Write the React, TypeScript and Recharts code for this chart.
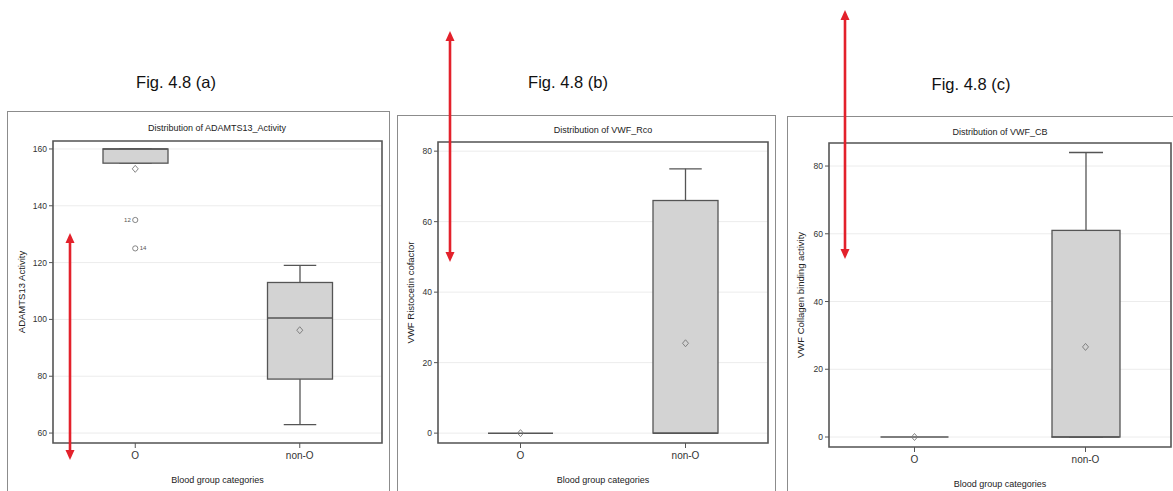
import React from 'react';
import { ComposedChart, Bar, Scatter, XAxis, YAxis, CartesianGrid, ReferenceArea } from 'recharts';

const categories = ['O', 'non-O'];

// Fig 4.8 (a) ADAMTS13 activity
const adamtsQ1 = [155, 79];
const adamtsMedian = [160, 100.5];
const adamtsQ3 = [160, 113];
const adamtsLow = [155, 63];
const adamtsHigh = [160, 119];
const adamtsMean = [153, 96.2];
const adamtsOutLeft = [135, null];
const adamtsOutLeftId = ['12', null];
const adamtsOutRight = [125, null];
const adamtsOutRightId = ['14', null];

// Fig 4.8 (b) VWF ristocetin cofactor
const rcoQ1 = [0, 0];
const rcoMedian = [0, 0];
const rcoQ3 = [0, 66];
const rcoLow = [0, 0];
const rcoHigh = [0, 75];
const rcoMean = [0, 25.5];

// Fig 4.8 (c) VWF collagen binding
const cbQ1 = [0, 0];
const cbMedian = [0, 0];
const cbQ3 = [0, 61];
const cbLow = [0, 0];
const cbHigh = [0, 84];
const cbMean = [0, 26.6];

const ticksA = [60, 80, 100, 120, 140, 160];
const ticksBC = [0, 20, 40, 60, 80];

const FONT = "'Liberation Sans Narrow', 'Arial Narrow', 'Liberation Sans', Arial, sans-serif";
const STROKE = '#555';
const RED = '#e3212b';

type PanelProps = {
  left: number;
  top: number;
  width: number;
  height: number;
  margin: { top: number; right: number; bottom: number; left: number };
  yAxisWidth: number;
  domain: [number, number];
  ticks: number[];
  yLabel: string;
  q1: number[];
  median: number[];
  q3: number[];
  low: number[];
  high: number[];
  mean: number[];
  outLeft?: (number | null)[];
  outLeftId?: (string | null)[];
  outRight?: (number | null)[];
  outRightId?: (string | null)[];
  boxWidth: number;
};

const BoxPanel = (p: PanelProps) => {
  const rows = categories.map((cat, i) => ({
    cat,
    whisker: [p.low[i], p.high[i]],
    box: [p.q1[i], p.q3[i]],
    median: p.median[i],
    mean: p.mean[i],
    outLeft: p.outLeft ? p.outLeft[i] : null,
    outLeftId: p.outLeftId ? p.outLeftId[i] : null,
    outRight: p.outRight ? p.outRight[i] : null,
    outRightId: p.outRightId ? p.outRightId[i] : null,
  }));
  const cap = p.boxWidth / 2;

  const whiskerShape = (s: any) => {
    const cx = s.x + s.width / 2;
    const y0 = Math.min(s.y, s.y + s.height);
    const y1 = Math.max(s.y, s.y + s.height);
    if (y1 - y0 < 0.5) return <g />;
    return (
      <g stroke={STROKE} strokeWidth={1.3}>
        <line x1={cx} x2={cx} y1={y0} y2={y1} />
        <line x1={cx - cap / 2} x2={cx + cap / 2} y1={y0} y2={y0} />
        <line x1={cx - cap / 2} x2={cx + cap / 2} y1={y1} y2={y1} />
      </g>
    );
  };

  const boxShape = (s: any) => {
    const y0 = Math.min(s.y, s.y + s.height);
    const h = Math.abs(s.height);
    if (h < 0.5) return <g />;
    return <rect x={s.x} y={y0} width={s.width} height={h} fill="#d3d3d3" stroke={STROKE} strokeWidth={1.3} />;
  };

  const medianShape = (s: any) => (
    <line x1={s.cx - p.boxWidth / 2} x2={s.cx + p.boxWidth / 2} y1={s.cy} y2={s.cy} stroke={STROKE} strokeWidth={1.5} />
  );

  const meanShape = (s: any) => (
    <polygon
      points={`${s.cx},${s.cy - 3.5} ${s.cx + 3},${s.cy} ${s.cx},${s.cy + 3.5} ${s.cx - 3},${s.cy}`}
      fill="none"
      stroke="#777"
      strokeWidth={0.9}
    />
  );

  const outlierShape = (side: 'left' | 'right') => (s: any) => {
    const val = side === 'left' ? s.payload.outLeft : s.payload.outRight;
    const id = side === 'left' ? s.payload.outLeftId : s.payload.outRightId;
    if (val == null || !isFinite(s.cy)) return <g />;
    return (
      <g>
        <circle cx={s.cx} cy={s.cy} r={2.6} fill="none" stroke="#777" strokeWidth={0.9} />
        <text
          x={side === 'left' ? s.cx - 4.5 : s.cx + 4.5}
          y={s.cy}
          textAnchor={side === 'left' ? 'end' : 'start'}
          dominantBaseline="central"
          fontSize={6}
          fontFamily={FONT}
          fill="#555"
        >
          {id}
        </text>
      </g>
    );
  };

  return (
    <div style={{ position: 'absolute', left: p.left, top: p.top }}>
      <ComposedChart width={p.width} height={p.height} data={rows} margin={p.margin}>
        <CartesianGrid xAxisId="main" vertical={false} stroke="#ececec" strokeWidth={1} />
        <XAxis
          xAxisId="main"
          dataKey="cat"
          height={45}
          axisLine={false}
          tickSize={5}
          tickMargin={4}
          tickLine={{ stroke: STROKE }}
          tick={{ fontSize: 10, fill: '#333', fontFamily: FONT }}
          label={{ value: 'Blood group categories', position: 'insideBottom', offset: 5, fontSize: 9, fill: '#222', fontFamily: FONT }}
        />
        <XAxis xAxisId="over" dataKey="cat" hide />
        <YAxis
          type="number"
          width={p.yAxisWidth}
          domain={p.domain}
          ticks={p.ticks}
          allowDataOverflow
          axisLine={false}
          tickSize={4}
          tickMargin={2}
          tickLine={{ stroke: STROKE }}
          tick={{ fontSize: 8.5, fill: '#333', fontFamily: FONT }}
          label={{
            value: p.yLabel,
            angle: -90,
            position: 'insideLeft',
            offset: 14,
            style: { textAnchor: 'middle', fontSize: 9.5, fill: '#222', fontFamily: FONT },
          }}
        />
        <ReferenceArea
          xAxisId="main"
          y1={p.domain[0]}
          y2={p.domain[1]}
          ifOverflow="visible"
          fill="none"
          fillOpacity={0}
          stroke={STROKE}
          strokeWidth={1.6}
        />
        <Bar xAxisId="main" dataKey="whisker" barSize={p.boxWidth} shape={whiskerShape} isAnimationActive={false} />
        <Bar xAxisId="over" dataKey="box" barSize={p.boxWidth} shape={boxShape} isAnimationActive={false} />
        <Scatter xAxisId="main" dataKey="median" shape={medianShape} isAnimationActive={false} />
        <Scatter xAxisId="main" dataKey="mean" shape={meanShape} isAnimationActive={false} />
        {p.outLeft && <Scatter xAxisId="main" dataKey="outLeft" shape={outlierShape('left')} isAnimationActive={false} />}
        {p.outRight && <Scatter xAxisId="main" dataKey="outRight" shape={outlierShape('right')} isAnimationActive={false} />}
      </ComposedChart>
    </div>
  );
};

const Arrow = ({ x, y1, y2 }: { x: number; y1: number; y2: number }) => (
  <g fill={RED} stroke="none">
    <line x1={x} x2={x} y1={y1 + 8} y2={y2 - 8} stroke={RED} strokeWidth={2.6} />
    <polygon points={`${x},${y1} ${x + 4.5},${y1 + 10} ${x - 4.5},${y1 + 10}`} />
    <polygon points={`${x},${y2} ${x + 4.5},${y2 - 10} ${x - 4.5},${y2 - 10}`} />
  </g>
);

const frame = (left: number, top: number, width: number, height: number) => (
  <div
    style={{
      position: 'absolute',
      left,
      top,
      width,
      height,
      border: '1.5px solid #8c8c8c',
      boxSizing: 'border-box',
    }}
  />
);

const App = () => {
  return (
    <div style={{ position: 'absolute', left: 0, top: 0, width: 1173, height: 491, overflow: 'hidden', background: '#fff' }}>
      {frame(7, 111, 383, 400)}
      {frame(397, 115, 379, 400)}
      {frame(787, 116, 420, 400)}

      <BoxPanel
        left={8}
        top={111}
        width={381}
        height={390}
        margin={{ top: 30, right: 7, bottom: 13, left: 0 }}
        yAxisWidth={45}
        domain={[56.5, 162.8]}
        ticks={ticksA}
        yLabel="ADAMTS13 Activity"
        q1={adamtsQ1}
        median={adamtsMedian}
        q3={adamtsQ3}
        low={adamtsLow}
        high={adamtsHigh}
        mean={adamtsMean}
        outLeft={adamtsOutLeft}
        outLeftId={adamtsOutLeftId}
        outRight={adamtsOutRight}
        outRightId={adamtsOutRightId}
        boxWidth={65}
      />
      <BoxPanel
        left={397}
        top={115}
        width={378}
        height={386}
        margin={{ top: 27, right: 7, bottom: 13, left: 0 }}
        yAxisWidth={41}
        domain={[-2.8, 82.6]}
        ticks={ticksBC}
        yLabel="VWF Ristocetin cofactor"
        q1={rcoQ1}
        median={rcoMedian}
        q3={rcoQ3}
        low={rcoLow}
        high={rcoHigh}
        mean={rcoMean}
        boxWidth={65}
      />
      <BoxPanel
        left={787}
        top={116}
        width={392}
        height={389}
        margin={{ top: 27, right: 8, bottom: 13, left: 0 }}
        yAxisWidth={42}
        domain={[-2.95, 86.8]}
        ticks={ticksBC}
        yLabel="VWF Collagen binding activity"
        q1={cbQ1}
        median={cbMedian}
        q3={cbQ3}
        low={cbLow}
        high={cbHigh}
        mean={cbMean}
        boxWidth={68}
      />

      <svg width={1173} height={491} style={{ position: 'absolute', left: 0, top: 0, pointerEvents: 'none' }}>
        <g fontFamily="'Liberation Sans', Arial, sans-serif" fontSize={16.5} fill="#111" textAnchor="middle">
          <text x={176} y={88}>Fig. 4.8 (a)</text>
          <text x={568} y={88}>Fig. 4.8 (b)</text>
          <text x={971} y={90}>Fig. 4.8 (c)</text>
        </g>
        <g fontFamily={FONT} fontSize={9} fill="#222" textAnchor="middle">
          <text x={217} y={131}>Distribution of ADAMTS13_Activity</text>
          <text x={603} y={133}>Distribution of VWF_Rco</text>
          <text x={1000} y={135}>Distribution of VWF_CB</text>
        </g>
        <Arrow x={70} y1={233} y2={460} />
        <Arrow x={450} y1={31} y2={262} />
        <Arrow x={845} y1={10} y2={259} />
      </svg>
    </div>
  );
};

export default App;
